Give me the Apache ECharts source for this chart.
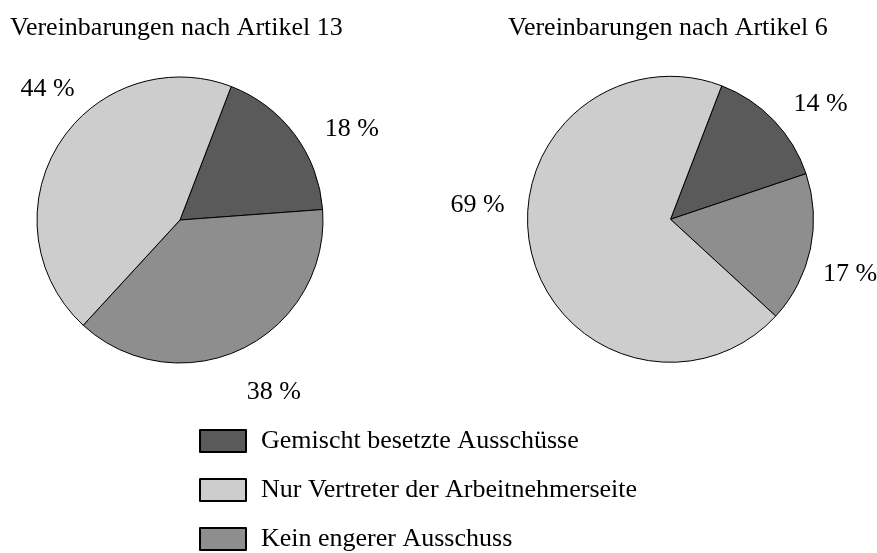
<!DOCTYPE html>
<html>
<head>
<meta charset="utf-8">
<script src="https://cdn.jsdelivr.net/npm/echarts@6/dist/echarts.min.js"></script>
<style>
  html, body { margin: 0; padding: 0; background: #fff; }
  #chart { width: 877px; height: 553px; }
</style>
</head>
<body>
<div id="chart"></div>
<script>
// Kategorien in Zeichenreihenfolge (im Uhrzeigersinn ab oben)
const categories = ['Gemischt besetzte Ausschüsse', 'Kein engerer Ausschuss', 'Nur Vertreter der Arbeitnehmerseite'];
const legendOrder = ['Gemischt besetzte Ausschüsse', 'Nur Vertreter der Arbeitnehmerseite', 'Kein engerer Ausschuss'];
const artikel13 = [18, 38, 44];
const artikel6 = [14, 17, 69];
const titles = ['Vereinbarungen nach Artikel 13', 'Vereinbarungen nach Artikel 6'];

const colors = ['#5a5a5a', '#8e8e8e', '#cdcdcd'];
const font = 'Liberation Serif';

// kleine Verschiebungen der Prozent-Beschriftungen
const nudge13 = [[3, 3], [-17, 30], [44, -48]];
const nudge6 = [[-6, -6], [-17, 22], [3, -50]];

const chart = echarts.init(document.getElementById('chart'));

function pieSeries(values, center, nudge) {
  return {
    type: 'pie',
    center: center,
    radius: 143,
    startAngle: 69,
    clockwise: true,
    animation: false,
    silent: true,
    data: values.map((v, i) => ({
      name: categories[i],
      value: v,
      itemStyle: { color: colors[i] }
    })),
    itemStyle: { borderColor: '#000', borderWidth: 1 },
    label: {
      show: true,
      position: 'outside',
      alignTo: 'none',
      formatter: '{c} %',
      fontFamily: font,
      fontSize: 26,
      color: '#000',
      width: 70,
      bleedMargin: 0
    },
    labelLine: { show: false, length: 15, length2: 10 },
    labelLayout: p => ({ dx: nudge[p.dataIndex][0], dy: nudge[p.dataIndex][1] }),
    emphasis: { disabled: true }
  };
}

const option = {
  backgroundColor: '#fff',
  animation: false,
  title: [
    { text: titles[0], left: 10, top: 15, padding: 0,
      textStyle: { fontFamily: font, fontSize: 26, fontWeight: 'normal', color: '#000' } },
    { text: titles[1], left: 508, top: 15, padding: 0,
      textStyle: { fontFamily: font, fontSize: 26, fontWeight: 'normal', color: '#000' } }
  ],
  legend: {
    data: legendOrder,
    orient: 'vertical',
    left: 199,
    top: 428,
    padding: 0,
    icon: 'rect',
    itemWidth: 46,
    itemHeight: 22,
    itemGap: 23,
    selectedMode: false,
    textStyle: { fontFamily: font, fontSize: 26, color: '#000', padding: [0, 0, 0, 10] }
  },
  series: [
    pieSeries(artikel13, [180, 220], nudge13),
    pieSeries(artikel6, [670.5, 219.3], nudge6)
  ]
};

chart.setOption(option);
</script>
</body>
</html>
